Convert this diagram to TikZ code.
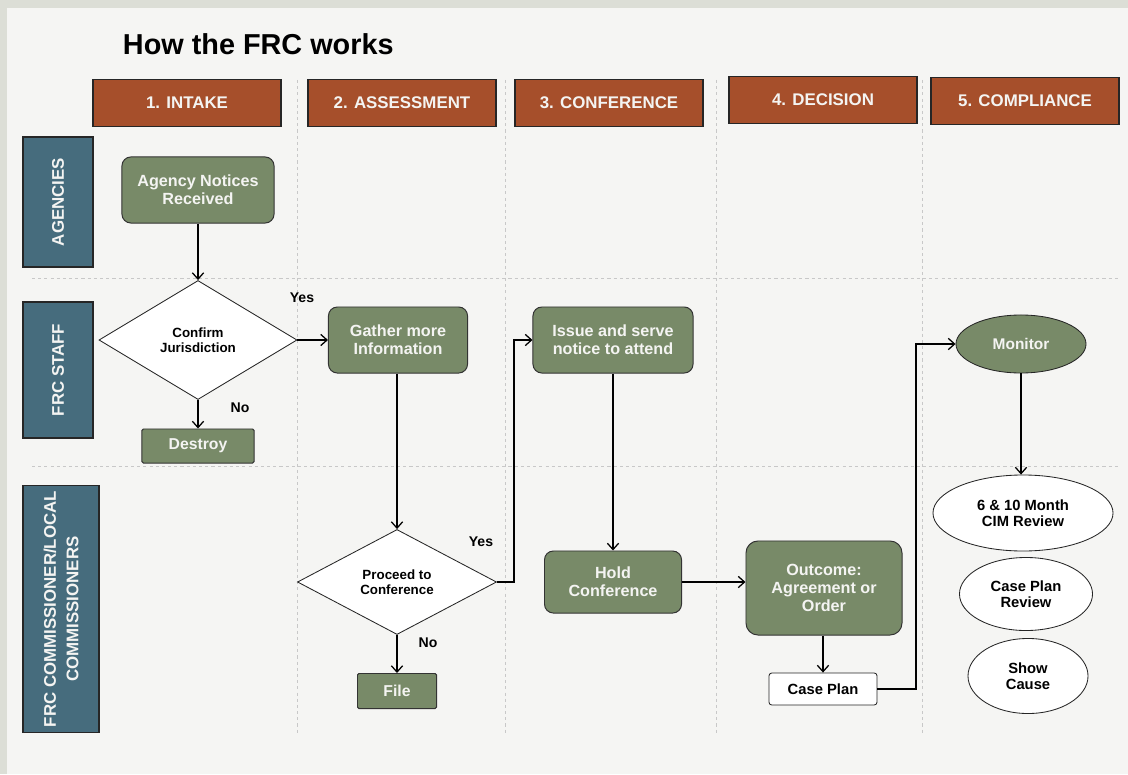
\documentclass[tikz,border=0pt]{standalone}
\usepackage{fontspec}
\setmainfont{Liberation Sans}
\usetikzlibrary{shapes.geometric,arrows.meta}
\definecolor{frcgreen}{HTML}{788A68}
\definecolor{frcbrown}{HTML}{A64F2B}
\definecolor{frcblue}{HTML}{466C7D}
\definecolor{frcback}{HTML}{F5F5F3}
\definecolor{frcedge}{HTML}{DCDED6}
\definecolor{frcgrid}{HTML}{C8C8C8}
\definecolor{frcwhite}{HTML}{F4F4F2}
\newcommand{\frcfont}[2]{\fontsize{#1}{#2}\selectfont\bfseries}
\begin{document}
\begin{tikzpicture}[x=0.025cm, y=-0.025cm, >={Straight Barb[length=4.5pt,width=8pt]}]
        \tikzset{header/.style={draw=black!85, line width=0.8pt, fill=frcbrown,
                                text=frcwhite, minimum width=4.7cm,
                                minimum height=1.175cm, inner sep=0pt,
                                font=\frcfont{12}{14}},
                 lane/.style={draw=black!85, line width=0.8pt, fill=frcblue,
                              text=frcwhite, rotate=90, inner sep=0pt,
                              align=center, font=\frcfont{12}{16}},
                 task/.style={draw=black!80, line width=0.7pt, fill=frcgreen,
                              text=frcwhite, rounded corners=0.22cm,
                              inner sep=0pt, align=center,
                              font=\frcfont{11.5}{13}},
                 result/.style={task, rounded corners=1pt,
                                font=\frcfont{11.2}{13}},
                 decide/.style={diamond, draw=black!85, line width=0.6pt,
                                fill=white, inner sep=0pt, align=center,
                                font=\frcfont{9.5}{10.5}},
                 review/.style={ellipse, draw=black!85, line width=0.6pt,
                                fill=white, inner sep=0pt, align=center,
                                font=\frcfont{10.5}{11.5}},
                 answer/.style={font=\frcfont{10}{12}},
                 laneline/.style={frcgrid, line width=0.5pt,
                                  dash pattern=on 2.2pt off 2.2pt},
                 flow/.style={->, line width=0.9pt}}

        \useasboundingbox (0,0) rectangle (1128,774);
        \fill[frcedge] (0,0) rectangle (1128,774);
        \fill[frcback] (7,8) rectangle (1128,774);

        \foreach \gx in {297, 505, 716, 922}
            \draw[laneline] (\gx, 80) -- (\gx, 735);
        \foreach \gy in {278, 466}
            \draw[laneline] (32, \gy) -- (1120, \gy);

        \node[font=\frcfont{20.5}{24}, anchor=west] (title) at (118, 44)
             {How the FRC works};

        \node[header] (intake)     at (187, 103)  {1. INTAKE};
        \node[header] (assessment) at (402, 103)  {2. ASSESSMENT};
        \node[header] (conference) at (609, 103)  {3. CONFERENCE};
        \node[header] (decision)   at (823, 100)  {4. DECISION};
        \node[header] (compliance) at (1025, 101) {5. COMPLIANCE};

        \node[lane, minimum width=3.25cm, minimum height=1.75cm]
             (agencies) at (58, 202) {AGENCIES};
        \node[lane, minimum width=3.4cm, minimum height=1.75cm]
             (staff) at (58, 370) {FRC STAFF};
        \node[lane, minimum width=6.175cm, minimum height=1.9cm]
             (commissioners) at (61, 609) {FRC COMMISSIONER/LOCAL\\COMMISSIONERS};

        \node[task, minimum width=3.8cm, minimum height=1.65cm]
             (notices) at (198, 190) {Agency Notices\\Received};
        \node[decide, minimum width=4.95cm, minimum height=2.975cm]
             (jurisdiction) at (198, 340) {Confirm\\Jurisdiction};
        \node[result, minimum width=2.8cm, minimum height=0.85cm]
             (destroy) at (198, 446) {Destroy};
        \node[task, minimum width=3.475cm, minimum height=1.65cm]
             (gather) at (398, 340) {Gather more\\Information};
        \node[decide, minimum width=4.975cm, minimum height=2.625cm]
             (proceed) at (397, 582) {Proceed to\\Conference};
        \node[result, minimum width=1.975cm, minimum height=0.875cm]
             (file) at (397, 691) {File};
        \node[task, minimum width=4.0cm, minimum height=1.65cm]
             (issue) at (613, 340) {Issue and serve\\notice to attend};
        \node[task, minimum width=3.425cm, minimum height=1.55cm]
             (hold) at (613, 582) {Hold\\Conference};
        \node[task, rounded corners=0.3cm, minimum width=3.9cm, minimum height=2.35cm]
             (outcome) at (824, 588) {Outcome:\\Agreement or\\Order};
        \node[draw=black!85, line width=0.6pt, fill=white, rounded corners=2pt,
              font=\frcfont{10.5}{12}, minimum width=2.7cm, minimum height=0.8cm]
             (caseplan) at (823, 689) {Case Plan};
        \node[review, fill=frcgreen, text=frcwhite, font=\frcfont{11}{13},
              minimum width=3.25cm, minimum height=1.45cm]
             (monitor) at (1021, 344) {Monitor};
        \node[review, minimum width=4.5cm, minimum height=1.9cm]
             (cim) at (1023, 513) {6 \& 10 Month\\CIM Review};
        \node[review, minimum width=3.325cm, minimum height=1.825cm]
             (planreview) at (1026, 594) {Case Plan\\Review};
        \node[review, minimum width=3.0cm, minimum height=1.875cm]
             (showcause) at (1028, 676) {Show\\Cause};

        \node[answer] (yesstaff) at (302, 298) {Yes};
        \node[answer] (nostaff)  at (240, 408) {No};
        \node[answer] (yesconf)  at (481, 542) {Yes};
        \node[answer] (noconf)   at (428, 643) {No};

        \coordinate (confbend) at (514, 582);
        \coordinate (planbend) at (916, 689);

        \draw[flow] (notices) -- (jurisdiction);
        \draw[flow] (jurisdiction.east) -- (jurisdiction.east -| gather.west);
        \draw[flow] (jurisdiction) -- (destroy);
        \draw[flow] (gather.south -| proceed.north) -- (proceed.north);
        \draw[flow] (proceed.east) -- (confbend) |- (issue.west);
        \draw[flow] (proceed) -- (file);
        \draw[flow] (issue) -- (hold);
        \draw[flow] (hold.east) -- (hold.east -| outcome.west);
        \draw[flow] (outcome.south -| caseplan.north) -- (caseplan.north);
        \draw[flow] (caseplan.east) -- (planbend) |- (monitor.west);
        \draw[flow] (monitor.south) -- (monitor.south |- cim.north);
      \end{tikzpicture}
\end{document}
